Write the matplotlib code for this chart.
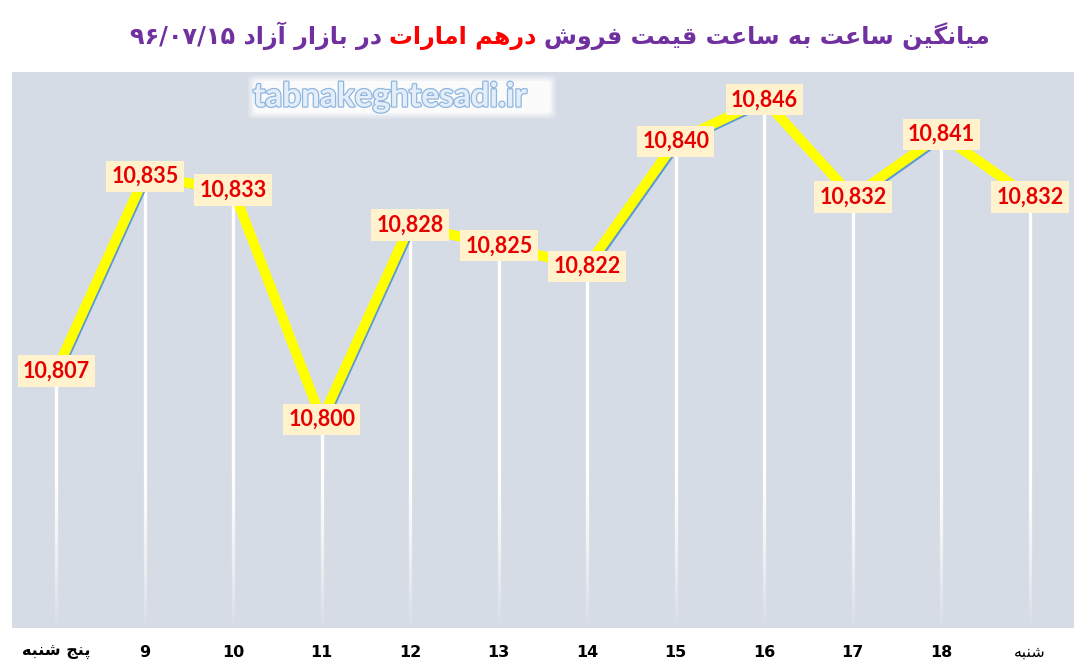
import matplotlib
matplotlib.use('Agg')
import matplotlib.pyplot as plt
import matplotlib.transforms as mtransforms
import matplotlib.patheffects as pe
from matplotlib.patches import FancyBboxPatch
from matplotlib.offsetbox import TextArea, HPacker, AnnotationBbox
import numpy as np

days = ['پنج شنبه', '9', '10', '11', '12', '13', '14', '15', '16', '17', '18', 'شنبه']
prices = [10807, 10835, 10833, 10800, 10828, 10825, 10822, 10840, 10846, 10832, 10841, 10832]
title_parts = ['میانگین ساعت به ساعت قیمت فروش', 'درهم امارات', 'در بازار آزاد ۹۶/۰۷/۱۵']
title_colors = ['#7030A0', '#FF0000', '#7030A0']
site = 'tabnakeghtesadi.ir'

# matplotlib has no arabic shaping, so map letters to presentation forms
# (isolated, final, initial, medial); None = does not join to the next letter
FORMS = {
    'ا': ('\uFE8D', '\uFE8E', None, None),
    'آ': ('\uFE81', '\uFE82', None, None),
    'ب': ('\uFE8F', '\uFE90', '\uFE91', '\uFE92'),
    'پ': ('\uFB56', '\uFB57', '\uFB58', '\uFB59'),
    'ت': ('\uFE95', '\uFE96', '\uFE97', '\uFE98'),
    'ج': ('\uFE9D', '\uFE9E', '\uFE9F', '\uFEA0'),
    'د': ('\uFEA9', '\uFEAA', None, None),
    'ر': ('\uFEAD', '\uFEAE', None, None),
    'ز': ('\uFEAF', '\uFEB0', None, None),
    'س': ('\uFEB1', '\uFEB2', '\uFEB3', '\uFEB4'),
    'ش': ('\uFEB5', '\uFEB6', '\uFEB7', '\uFEB8'),
    'ع': ('\uFEC9', '\uFECA', '\uFECB', '\uFECC'),
    'ف': ('\uFED1', '\uFED2', '\uFED3', '\uFED4'),
    'ق': ('\uFED5', '\uFED6', '\uFED7', '\uFED8'),
    'م': ('\uFEE1', '\uFEE2', '\uFEE3', '\uFEE4'),
    'ن': ('\uFEE5', '\uFEE6', '\uFEE7', '\uFEE8'),
    'ه': ('\uFEE9', '\uFEEA', '\uFEEB', '\uFEEC'),
    'و': ('\uFEED', '\uFEEE', None, None),
    'ی': ('\uFBFC', '\uFBFD', '\uFBFE', '\uFBFF'),
    'گ': ('\uFB92', '\uFB93', '\uFB94', '\uFB95'),
}


def shape_word(w):
    out = []
    for i, ch in enumerate(w):
        if ch not in FORMS:
            out.append(ch)
            continue
        prev = w[i - 1] if i > 0 else None
        nxt = w[i + 1] if i < len(w) - 1 else None
        jp = prev in FORMS and FORMS[prev][2] is not None
        jn = nxt in FORMS and FORMS[ch][2] is not None
        iso, fin, ini, med = FORMS[ch]
        if jp and jn:
            out.append(med)
        elif jp:
            out.append(fin)
        elif jn:
            out.append(ini)
        else:
            out.append(iso)
    return ''.join(out)


def farsi(s):
    vis = []
    for w in reversed(s.split(' ')):
        if any(c in FORMS for c in w):
            vis.append(shape_word(w)[::-1])
        else:
            vis.append(w)
    return ' '.join(vis)


plt.rcParams['font.family'] = ['DejaVu Sans']
bg = '#D6DCE5'
W, H = 1079, 672

fig = plt.figure(figsize=(W / 100, H / 100), dpi=100)
ax = fig.add_axes([12 / W, 44 / H, 1062 / W, 556 / H])
ax.set_facecolor(bg)
for s in ax.spines.values():
    s.set_visible(False)

x = np.arange(len(prices))
ymin, ymax = 10770, 10850

# white drop lines, faded out near the bottom by a background-coloured ramp
ax.vlines(x, ymin, prices, colors='white', lw=2.4, zorder=1)
ramp = np.zeros((100, 1, 4))
ramp[..., :3] = matplotlib.colors.to_rgb(bg)
ramp[:, 0, 3] = np.linspace(0.97, 0.0, 100) ** 1.3
ax.imshow(ramp, extent=(-0.5, len(prices) - 0.5, ymin, 10793), origin='lower',
          aspect='auto', interpolation='bilinear', zorder=1.5)
ax.set_xlim(-0.5, len(prices) - 0.5)
ax.set_ylim(ymin, ymax)

shift = mtransforms.ScaledTranslation(4 / 100, -4 / 100, fig.dpi_scale_trans)
ax.plot(x, prices, color='#5B9BD5', lw=2.2, transform=ax.transData + shift, zorder=2)
ax.plot(x, prices, color='#FFFF00', lw=7.2, solid_joinstyle='round', solid_capstyle='round', zorder=3)

for xi, p in zip(x, prices):
    ax.text(xi, p, '{:,}'.format(p), ha='center', va='center', color='#E60000',
            fontsize=15.5, fontweight='bold', family='Lato', zorder=5,
            bbox=dict(boxstyle='square,pad=0.24', facecolor='#FFF2CC', edgecolor='none'))

ax.set_xticks(x)
ax.set_xticklabels([farsi(d) for d in days], fontsize=11.5, fontweight='bold')
ax.get_xticklabels()[-1].set_fontweight('normal')
ax.tick_params(axis='x', length=0, pad=12)
ax.set_yticks([])

# title, three coloured pieces laid out right-to-left
areas = []
for part, c in zip(reversed(title_parts), reversed(title_colors)):
    areas.append(TextArea(farsi(part), textprops=dict(color=c, fontsize=17.2, fontweight='bold')))
pack = HPacker(children=areas, align='baseline', pad=0, sep=5)
fig.add_artist(AnnotationBbox(pack, (0.519, 0.947), xycoords='figure fraction',
                              frameon=False, box_alignment=(0.5, 0.5)))

# watermark with a soft white glow behind it
for grow, a in [(6, 0.2), (4, 0.3), (2, 0.45), (0, 0.75)]:
    x0, y0, x1, y1 = 254 - grow, 81 - grow, 550 + grow, 113 + grow
    fig.add_artist(FancyBboxPatch((x0 / W, 1 - y1 / H), (x1 - x0) / W, (y1 - y0) / H,
                                  boxstyle='round,pad=0,rounding_size=0.006',
                                  transform=fig.transFigure, facecolor='white',
                                  edgecolor='none', alpha=a, zorder=3))
wm = fig.text(0.3614, 1 - 97 / H, site, ha='center', va='center', fontsize=24,
              family='Lato', fontweight='bold', color='#E4EEF8', zorder=4)
wm.set_path_effects([pe.Stroke(linewidth=1.8, foreground='#8FB6DE'), pe.Normal()])

fig.savefig('out.png', dpi=100, facecolor='white')
